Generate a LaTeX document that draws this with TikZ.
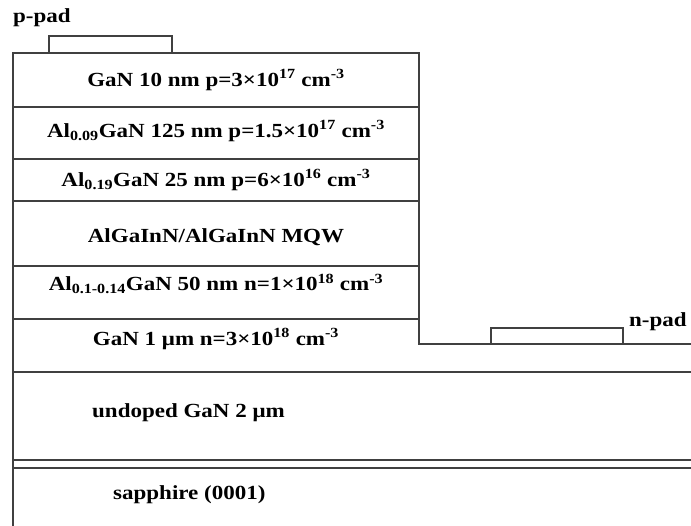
\documentclass[tikz,border=0pt]{standalone}
\usepackage{fontspec}
\setmainfont[FakeStretch=1.15]{Liberation Serif}
\begin{document}
\begin{tikzpicture}[x=1pt,y=-1pt,
        edge/.style={line width=1.1pt, black!75},
        lbl/.style={font=\fontsize{20}{24}\selectfont\bfseries, inner sep=0pt}]
        \useasboundingbox (0,0) rectangle (691,526);
        % mesa outline and step down to n-side
        \draw[edge] (13,526) -- (13,53) -- (419,53) -- (419,344) -- (691,344);
        \draw[edge] (13,107) -- (419,107);
        \draw[edge] (13,159) -- (419,159);
        \draw[edge] (13,201) -- (419,201);
        \draw[edge] (13,266) -- (419,266);
        \draw[edge] (13,319) -- (419,319);
        \draw[edge] (13,372) -- (691,372);
        \draw[edge] (13,460) -- (691,460);
        \draw[edge] (13,468) -- (691,468);
        % contacts
        \draw[edge] (49,53) -- (49,36) -- (172,36) -- (172,53);
        \draw[edge] (491,344) -- (491,328) -- (623,328) -- (623,344);
        \node[lbl, anchor=west] (ppad) at (13,18) {p-pad};
        \node[lbl, anchor=west] (npad) at (629,322) {n-pad};
        % layers
        \node[lbl] (capgan) at (216,80) {GaN 10 nm p=3×10\textsuperscript{17} cm\textsuperscript{-3}};
        \node[lbl] (pclad) at (216,131) {Al\textsubscript{0.09}GaN 125 nm p=1.5×10\textsuperscript{17} cm\textsuperscript{-3}};
        \node[lbl] (pblock) at (216,180) {Al\textsubscript{0.19}GaN 25 nm p=6×10\textsuperscript{16} cm\textsuperscript{-3}};
        \node[lbl] (mqw) at (216,237) {AlGaInN/AlGaInN MQW};
        \node[lbl] (nclad) at (216,284) {Al\textsubscript{0.1-0.14}GaN 50 nm n=1×10\textsuperscript{18} cm\textsuperscript{-3}};
        \node[lbl] (ngan) at (216,339) {GaN 1 μm n=3×10\textsuperscript{18} cm\textsuperscript{-3}};
        \node[lbl, anchor=west] (ugan) at (92,413) {undoped GaN 2 μm};
        \node[lbl, anchor=west] (sub) at (113,495) {sapphire (0001)};
\end{tikzpicture}
\end{document}
